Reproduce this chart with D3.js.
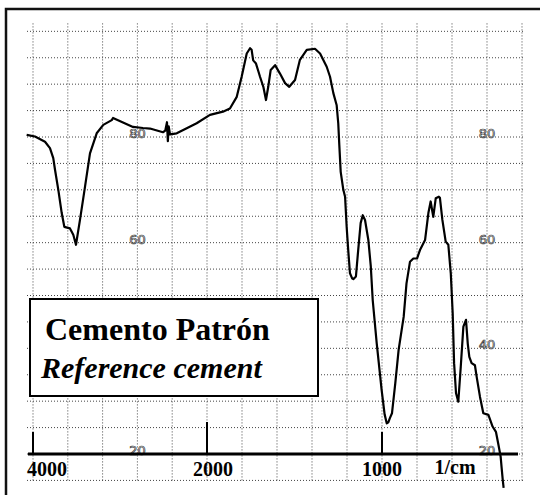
<!DOCTYPE html>
<html>
<head>
<meta charset="utf-8">
<script src="https://cdn.jsdelivr.net/npm/d3@7"></script>
<style>
  body { margin: 0; background: #fff; }
</style>
</head>
<body>
<div id="vis"></div>
<script>
// Spectrum data (wavenumber in 1/cm, transmittance in %)
let wavenumbers = [4073, 3977, 3862, 3805, 3767, 3747, 3709, 3670, 3640, 3575, 3537, 3506,
  3460, 3402, 3345, 3268, 3192, 3095, 3080, 2851, 2736, 2655, 2506, 2480, 2460, 2450, 2440,
  2425, 2348, 2250, 2119, 1983, 1909, 1869, 1830, 1802, 1773, 1754, 1745, 1736, 1720, 1707,
  1697, 1678, 1663, 1650, 1636, 1611, 1583, 1554, 1530, 1497, 1469, 1430, 1383, 1354, 1316,
  1297, 1278, 1259, 1250, 1244, 1236, 1221, 1211, 1202, 1193, 1183, 1170, 1164, 1149, 1136,
  1122, 1110, 1097, 1078, 1064, 1053, 1030, 1002, 985, 973, 964, 955, 943, 924, 905, 876,
  860, 840, 821, 800, 783, 754, 735, 722, 707, 693, 675, 669, 655, 636, 621, 607, 596, 588,
  577, 564, 550, 535, 520, 510, 501, 488, 469, 459, 440, 421, 392, 368, 349, 336, 322, 317,
  310, 305];
let transmittance = [80.4, 80.1, 79.1, 77.9, 76.0, 73.8, 70.0, 65.6, 63.0, 62.7, 61.5, 59.6,
  64.3, 70.6, 76.9, 80.7, 82.3, 83.2, 83.6, 81.9, 81.7, 81.6, 80.9, 81.2, 82.8, 79.2, 82.0,
  80.5, 80.7, 81.5, 82.6, 84.2, 84.8, 85.4, 87.6, 91.4, 95.8, 96.8, 96.5, 94.5, 93.9, 92.5,
  91.4, 89.5, 87.0, 89.5, 92.7, 93.6, 92.0, 90.2, 89.5, 90.8, 94.6, 96.5, 96.7, 95.8, 93.3,
  91.4, 88.3, 86.0, 82.6, 78.5, 73.4, 70.0, 68.7, 63.0, 58.6, 54.2, 53.2, 53.1, 53.6, 58.6,
  63.7, 65.2, 64.3, 60.5, 55.5, 49.1, 40.9, 32.1, 27.5, 25.8, 26.0, 26.8, 27.7, 33.4, 39.7,
  46.0, 52.3, 56.4, 57.0, 57.0, 58.6, 60.5, 65.6, 67.8, 64.9, 68.4, 68.7, 68.5, 64.3, 60.2,
  59.6, 54.2, 46.6, 37.2, 31.5, 29.9, 36.5, 44.1, 45.4, 40.9, 38.4, 37.2, 36.8, 34.6, 30.8,
  27.7, 27.4, 25.2, 24.2, 22.0, 19.5, 17.6, 15.1, 13.6];

// Axis labels
let xTickValues = [4000, 2000, 1000];
let xTickLabels = ['4000', '2000', '1000'];
let yLabelsLeft = [80, 60, 20];        // the left 40 is hidden under the title box
let yLabelsRight = [80, 60, 40, 20];

// Grid
let xGridValues = [4000, 3600, 3200, 2800, 2400, 2000, 1800, 1600, 1400, 1200, 1000, 800, 600, 400, 200];
let yGridValues = d3.range(15, 101, 5);

let titleLines = ['Cemento Patrón', 'Reference cement'];

// Set up dimensions
let width = 540,
    height = 495;

let svg = d3.select('#vis')
            .append('svg')
            .attr('width', width)
            .attr('height', height)
            .style('background', '#fff');

// Split x scale: 4000-2000 compressed, 2000 down expanded
let xScale = d3.scaleLinear()
    .domain([4000, 2000, 200])
    .range([33, 207, 522]);

let yScale = d3.scaleLinear()
    .domain([20, 80])
    .range([454, 137]);

// Outer frame (left and top only, scan is cropped elsewhere)
svg.append('path')
    .attr('d', 'M6,495 L6,9 L540,9')
    .attr('fill', 'none')
    .attr('stroke', '#111')
    .attr('stroke-width', 2.5);

// Dotted grid
svg.append('g')
    .selectAll('line')
    .data(xGridValues)
    .enter()
    .append('line')
    .attr('x1', d => xScale(d))
    .attr('x2', d => xScale(d))
    .attr('y1', yScale(101.5))
    .attr('y2', yScale(15))
    .attr('stroke', '#444')
    .attr('stroke-width', 1)
    .attr('stroke-dasharray', '1,2');

svg.append('g')
    .selectAll('line')
    .data(yGridValues)
    .enter()
    .append('line')
    .attr('x1', 27)
    .attr('x2', 524)
    .attr('y1', d => yScale(d))
    .attr('y2', d => yScale(d))
    .attr('stroke', '#444')
    .attr('stroke-width', 1)
    .attr('stroke-dasharray', '1,2');

// % transmittance labels, hollow looking like the print
[[2800, yLabelsLeft], [400, yLabelsRight]].forEach(function(col) {
  svg.append('g')
      .selectAll('text')
      .data(col[1])
      .enter()
      .append('text')
      .attr('x', xScale(col[0]))
      .attr('y', d => yScale(d) + 1)
      .text(d => d)
      .style('text-anchor', 'middle')
      .style('font-family', 'DejaVu Sans')
      .style('font-size', '13px')
      .style('fill', '#fff')
      .style('stroke', '#333')
      .style('stroke-width', '0.7px');
});

// Spectrum line
let points = wavenumbers.map((w, i) => [w, transmittance[i]]);
let line = d3.line()
    .x(d => xScale(d[0]))
    .y(d => yScale(d[1]));

svg.append('path')
    .datum(points)
    .attr('d', line)
    .attr('fill', 'none')
    .attr('stroke', '#000')
    .attr('stroke-width', 2.2)
    .attr('stroke-linejoin', 'round');

// X axis line and ticks
svg.append('line')
    .attr('x1', 28)
    .attr('x2', 518)
    .attr('y1', yScale(20))
    .attr('y2', yScale(20))
    .attr('stroke', '#000')
    .attr('stroke-width', 3);

svg.append('g')
    .selectAll('line')
    .data(xTickValues)
    .enter()
    .append('line')
    .attr('x1', d => xScale(d))
    .attr('x2', d => xScale(d))
    .attr('y1', d => d === 2000 ? 422 : 432)
    .attr('y2', yScale(20))
    .attr('stroke', '#000')
    .attr('stroke-width', 2);

svg.append('g')
    .selectAll('text')
    .data(xTickValues)
    .enter()
    .append('text')
    .attr('x', (d, i) => i === 0 ? xScale(d) - 6 : xScale(d) + (d === 2000 ? 6 : 0))
    .attr('y', 476)
    .text((d, i) => xTickLabels[i])
    .style('text-anchor', (d, i) => i === 0 ? 'start' : 'middle')
    .style('font-family', 'Liberation Serif')
    .style('font-weight', 'bold')
    .style('font-size', '20px');

svg.append('text')
    .attr('x', 455)
    .attr('y', 474)
    .text('1/cm')
    .style('text-anchor', 'middle')
    .style('font-family', 'Liberation Serif')
    .style('font-weight', 'bold')
    .style('font-size', '20px');

// Title box
svg.append('rect')
    .attr('x', 30)
    .attr('y', 299)
    .attr('width', 288)
    .attr('height', 97)
    .attr('fill', '#fff')
    .attr('stroke', '#000')
    .attr('stroke-width', 2);

svg.append('text')
    .attr('x', 45)
    .attr('y', 340)
    .text(titleLines[0])
    .style('font-family', 'Liberation Serif')
    .style('font-weight', 'bold')
    .style('font-size', '32px');

svg.append('text')
    .attr('x', 41)
    .attr('y', 378)
    .text(titleLines[1])
    .style('font-family', 'Liberation Serif')
    .style('font-weight', 'bold')
    .style('font-style', 'italic')
    .style('font-size', '30px');
</script>
</body>
</html>
